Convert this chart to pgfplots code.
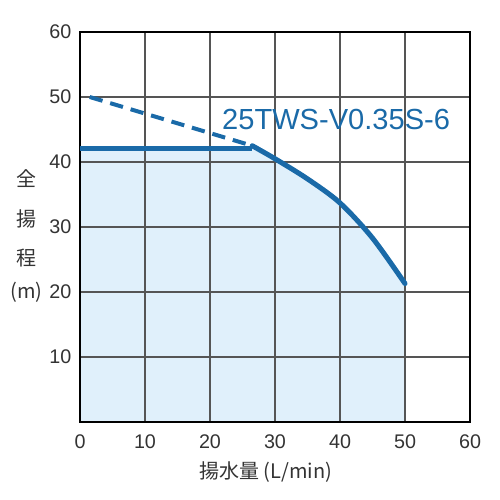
\documentclass[border=0pt]{standalone}
\usepackage{pgfplots}
\pgfplotsset{compat=1.18}
\usepackage{fontspec}
\setmainfont{Liberation Sans}
\newfontfamily\cjk{Noto Sans CJK JP}

\definecolor{curveblue}{HTML}{1A6AA8}
\definecolor{fillblue}{HTML}{E0F0FB}
\definecolor{gridgray}{HTML}{555555}

\begin{document}
\begin{tikzpicture}
\begin{axis}[
    width=292.5pt,
    height=292.5pt,
    scale only axis,
    xmin=0, xmax=60,
    ymin=0, ymax=60,
    xtick={0,10,...,60},
    ytick={10,20,...,60},
    major tick length=0pt,
    grid=major,
    major grid style={gridgray, line width=0.8pt},
    axis line style={black, line width=1.2pt},
    tick label style={font=\fontsize{14.8}{17}\selectfont, text=black!80},
    /pgf/number format/assume math mode=true,
    xticklabel style={yshift=-6pt},
    yticklabel style={xshift=-3pt},
    clip=false,
]
% shaded area under the pump curve
\addplot[fill=fillblue, draw=none] coordinates {
    (0,42.1) (26.5,42.1) (26.6,42.5) (30,40.5) (35,37.4) (40,33.7) (45,28.3) (50,21.3)
} \closedcycle;

% redraw grid over fill
\pgfplotsinvokeforeach{10,20,30,40,50}{
    \draw[gridgray, line width=0.8pt] (axis cs:#1,0) -- (axis cs:#1,60);
    \draw[gridgray, line width=0.8pt] (axis cs:0,#1) -- (axis cs:60,#1);
}
\draw[black, line width=1.2pt] (axis cs:0,0) rectangle (axis cs:60,60);

% dashed extension
\addplot[curveblue, line width=3pt, dash pattern=on 10pt off 6pt] coordinates {
    (1.5,50) (26.5,42.5)
};

% pump curve
\addplot[curveblue, line width=3.8pt, line join=round] coordinates {
    (0,42.1) (26.5,42.1)
};
\addplot[curveblue, line width=3.8pt, smooth, line cap=round] coordinates {
    (26.5,42.5) (30,40.5) (35,37.4) (40,33.7) (45,28.3) (50,21.3)
};

\node[text=curveblue, font=\fontsize{21.8}{24}\selectfont] at (axis cs:39.4,46.6) {25TWS-V0.35S-6};

% vertical y label
\node[font=\cjk\fontsize{15}{17}\selectfont, text=black!80] at (axis cs:-8.2,37.4) {全};
\node[font=\cjk\fontsize{15}{17}\selectfont, text=black!80] at (axis cs:-8.2,31.2) {揚};
\node[font=\cjk\fontsize{15}{17}\selectfont, text=black!80] at (axis cs:-8.2,25.3) {程};
\node[font=\cjk\fontsize{15}{17}\selectfont, text=black!80] at (axis cs:-8.2,19.9) {(m)};

% x label
\node[font=\cjk\fontsize{15}{17}\selectfont, text=black!80] at (axis cs:28.6,-7.7) {揚水量 (L/min)};
\end{axis}
\pgfresetboundingbox
\path[use as bounding box] ([xshift=-60pt,yshift=-58.5pt]current axis.south west) rectangle ([xshift=22.5pt,yshift=24pt]current axis.north east);
\end{tikzpicture}
\end{document}
